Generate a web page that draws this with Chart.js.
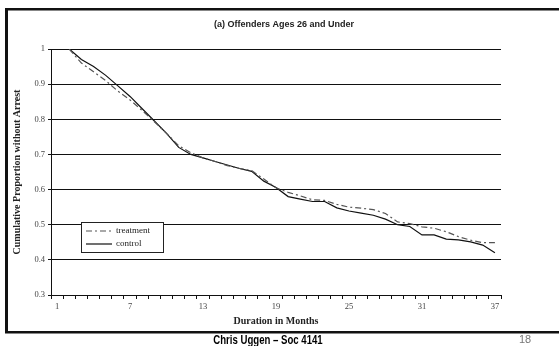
<!DOCTYPE html>
<html lang="en">

<head>
    <meta charset="UTF-8">
    <title>Offenders Ages 26 and Under</title>
    <script src="https://cdn.jsdelivr.net/npm/chart.js"></script>
    <style>
        html, body { margin: 0; padding: 0; background: #fff; }
        #wrap { width: 559px; height: 346px; position: relative; }
    </style>
</head>

<body>
    <div id="wrap"><canvas id="myChart1"></canvas></div>
</body>
<script>
    // months 1..37, the curves start at month 2
    const months = ["1", "2", "3", "4", "5", "6", "7", "8", "9", "10", "11", "12", "13", "14", "15", "16", "17", "18", "19",
        "20", "21", "22", "23", "24", "25", "26", "27", "28", "29", "30", "31", "32", "33", "34", "35", "36", "37"];

    const treatment = [null, 1.0, 0.96, 0.935, 0.91, 0.88, 0.855, 0.825, 0.793, 0.76, 0.725, 0.705, 0.69, 0.68, 0.668,
        0.66, 0.654, 0.63, 0.605, 0.592, 0.582, 0.571, 0.569, 0.558, 0.55, 0.547, 0.543, 0.532, 0.508, 0.503,
        0.494, 0.49, 0.48, 0.466, 0.456, 0.449, 0.449];

    const control = [null, 1.0, 0.97, 0.95, 0.925, 0.895, 0.865, 0.83, 0.795, 0.76, 0.72, 0.70, 0.69, 0.68, 0.67,
        0.66, 0.652, 0.624, 0.606, 0.58, 0.573, 0.566, 0.566, 0.548, 0.539, 0.533, 0.527, 0.516, 0.50, 0.495,
        0.471, 0.471, 0.459, 0.457, 0.451, 0.442, 0.42];

    const yTicks = [0.3, 0.4, 0.5, 0.6, 0.7, 0.8, 0.9, 1];
</script>

<script>
    const serif = "'Liberation Serif', 'Times New Roman', serif";
    const sans = "'Liberation Sans', Arial, sans-serif";

    // frame, title, footer and the little legend box
    const decorations = {
        id: "decorations",
        afterDraw(chart) {
            const c = chart.ctx;
            c.save();
            // slide frame
            c.fillStyle = "#111";
            c.fillRect(5, 8, 554, 2.5);
            c.fillRect(5, 8, 3, 325);
            c.fillRect(5, 331, 554, 2.5);

            c.fillStyle = "#222";
            c.font = "bold 9px " + sans;
            c.textAlign = "center";
            c.textBaseline = "middle";
            c.fillText("(a) Offenders Ages 26 and Under", 284, 25);

            // footer
            c.save();
            c.translate(268, 341);
            c.scale(0.8, 1);
            c.fillStyle = "#000";
            c.font = "bold 12px " + sans;
            c.fillText("Chris Uggen \u2013 Soc 4141", 0, 0);
            c.restore();
            c.fillStyle = "#777";
            c.font = "11px " + sans;
            c.fillText("18", 525, 340);

            // legend
            const lx = 81, ly = 222, lw = 82, lh = 30;
            c.fillStyle = "#fff";
            c.fillRect(lx, ly, lw, lh);
            c.strokeStyle = "#222";
            c.lineWidth = 1;
            c.strokeRect(lx + 0.5, ly + 0.5, lw, lh);
            c.textAlign = "left";
            c.font = "9px " + serif;
            chart.data.datasets.forEach((ds, i) => {
                const y = ly + 9 + i * 13;
                c.beginPath();
                c.setLineDash(ds.borderDash || []);
                c.strokeStyle = ds.borderColor;
                c.lineWidth = ds.borderWidth;
                c.moveTo(lx + 5, y);
                c.lineTo(lx + 31, y);
                c.stroke();
                c.setLineDash([]);
                c.fillStyle = "#222";
                c.fillText(ds.label, lx + 35, y);
            });
            c.restore();
        }
    };

    const ctx = document.getElementById("myChart1");
    new Chart(ctx, {
        type: "line",
        data: {
            labels: months,
            datasets: [
                {
                    label: "treatment",
                    data: treatment,
                    borderColor: "#555",
                    borderWidth: 1.2,
                    borderDash: [6, 3, 2, 3],
                    pointRadius: 0,
                    tension: 0,
                    fill: false,
                },
                {
                    label: "control",
                    data: control,
                    borderColor: "#111",
                    borderWidth: 1.2,
                    pointRadius: 0,
                    tension: 0,
                    fill: false,
                },
            ],
        },
        options: {
            responsive: true,
            maintainAspectRatio: false,
            animation: false,
            layout: { padding: { left: 0, top: 49, right: 58, bottom: 15 } },
            plugins: {
                legend: { display: false },
                tooltip: { enabled: false },
            },
            scales: {
                x: {
                    type: "category",
                    offset: true,
                    afterFit: (s) => { s.height = 36; },
                    grid: { offset: true, drawOnChartArea: false, tickLength: 4, color: "#111" },
                    border: { color: "#111", width: 1 },
                    ticks: {
                        autoSkip: false,
                        maxRotation: 0,
                        padding: 3,
                        color: "#444",
                        font: { family: serif, size: 8.5 },
                        callback: function (v, i) { return i % 6 === 0 ? this.getLabelForValue(v) : ""; },
                    },
                    title: {
                        display: true,
                        text: "Duration in Months",
                        color: "#222",
                        font: { family: serif, size: 10, weight: "bold" },
                        padding: { top: 0, bottom: 4 },
                    },
                },
                y: {
                    min: 0.3,
                    max: 1,
                    afterFit: (s) => { s.width = 51; },
                    afterBuildTicks: (s) => { s.ticks = yTicks.map((v) => ({ value: v })); },
                    grid: { color: "#111", lineWidth: 1, tickLength: 3 },
                    border: { color: "#111", width: 1 },
                    ticks: {
                        padding: 3,
                        color: "#444",
                        font: { family: serif, size: 8.5 },
                        callback: (v) => String(+v.toFixed(1)),
                    },
                    title: {
                        display: true,
                        text: "Cumulative Proportion without Arrest",
                        color: "#222",
                        font: { family: serif, size: 10, weight: "bold" },
                        padding: { top: 11, bottom: 8 },
                    },
                },
            },
        },
        plugins: [decorations],
    });
</script>

</html>
